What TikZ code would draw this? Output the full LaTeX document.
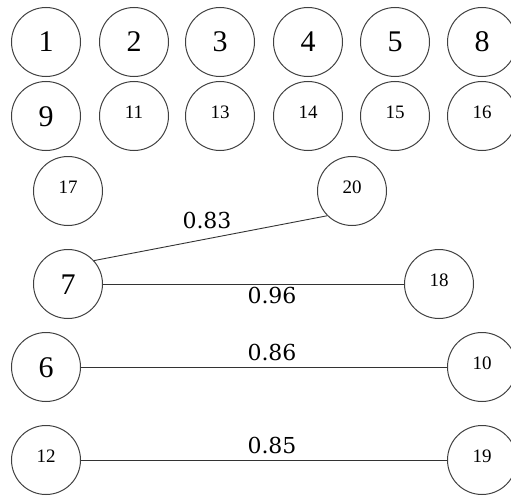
\documentclass[tikz,border=0pt]{standalone}
\usepackage{fontspec}
\setmainfont{Liberation Serif}
\newfontfamily\wtfont{DejaVu Serif}
\begin{document}
\begin{tikzpicture}[x=1pt,y=-1pt,
  vtx/.style={circle,draw=black!75,line width=1pt,minimum size=69pt,inner sep=0pt},
  big/.style={vtx,font=\fontsize{30}{30}\selectfont,text height=20pt,text depth=0pt},
  small/.style={vtx,font=\fontsize{19}{19}\selectfont,text height=13pt,text depth=8pt},
  edge/.style={draw=black!80,line width=0.9pt},
  wt/.style={font=\wtfont\fontsize{22}{22}\selectfont,inner sep=0pt}]
\useasboundingbox (0,0) rectangle (511,495);
% first row
\node[big] (n1) at (46,42) {1};
\node[big] (n2) at (134,42) {2};
\node[big] (n3) at (220,42) {3};
\node[big] (n4) at (308,42) {4};
\node[big] (n5) at (395,42) {5};
\node[big] (n8) at (482,42) {8};
% second row
\node[big] (n9) at (46,116) {9};
\node[small] (n11) at (134,116) {11};
\node[small] (n13) at (220,116) {13};
\node[small] (n14) at (308,116) {14};
\node[small] (n15) at (395,116) {15};
\node[small] (n16) at (482,116) {16};
% connected groups
\node[small] (n17) at (68,191) {17};
\node[small] (n20) at (352,191) {20};
\node[big] (n7) at (68,284) {7};
\node[small] (n18) at (439,284) {18};
\node[big] (n6) at (46,367) {6};
\node[small] (n10) at (482,367) {10};
\node[small] (n12) at (46,460) {12};
\node[small] (n19) at (482,460) {19};
% weighted edges
\draw[edge] (n7.42) -- (n20.225);
\draw[edge] (n7) -- (n18);
\draw[edge] (n6) -- (n10);
\draw[edge] (n12) -- (n19);
\node[wt] (w1) at (207,220) {0.83};
\node[wt] (w2) at (272,295) {0.96};
\node[wt] (w3) at (272,352) {0.86};
\node[wt] (w4) at (272,445) {0.85};
\end{tikzpicture}
\end{document}
